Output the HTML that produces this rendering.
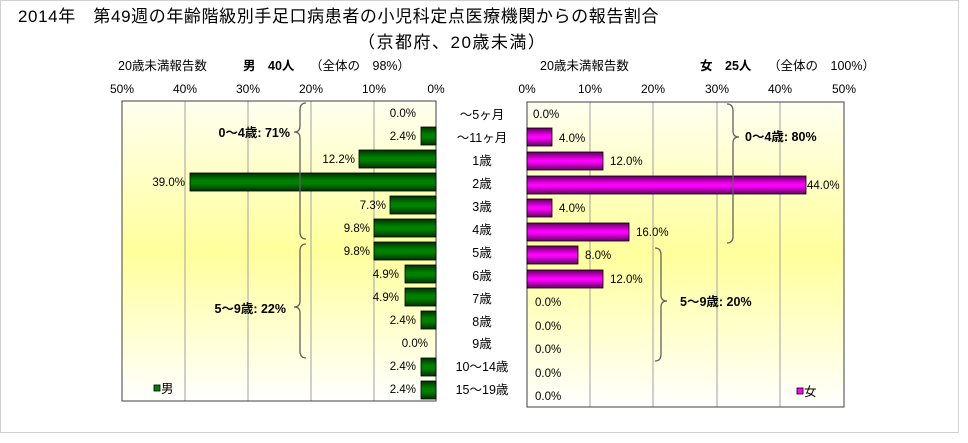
<!DOCTYPE html>
<html><head><meta charset="utf-8"><style>
html,body{margin:0;padding:0;background:#fff;}
svg{display:block;font-family:"Liberation Sans","Noto Sans CJK JP",sans-serif;}
</style></head><body>
<svg width="968" height="443" viewBox="0 0 968 443" xmlns="http://www.w3.org/2000/svg">
<defs>
<linearGradient id="bg" x1="0" y1="0" x2="0" y2="1">
<stop offset="0" stop-color="#fffff0"/><stop offset="0.5" stop-color="#ffff9c"/><stop offset="1" stop-color="#ffffff"/>
</linearGradient>
<linearGradient id="gr" x1="0" y1="0" x2="0" y2="1">
<stop offset="0" stop-color="#003000"/><stop offset="0.4" stop-color="#008000"/><stop offset="0.6" stop-color="#008000"/><stop offset="1" stop-color="#003000"/>
</linearGradient>
<linearGradient id="pk" x1="0" y1="0" x2="0" y2="1">
<stop offset="0" stop-color="#600060"/><stop offset="0.45" stop-color="#ff00ff"/><stop offset="0.55" stop-color="#ff00ff"/><stop offset="1" stop-color="#600060"/>
</linearGradient>
</defs>
<rect x="0.5" y="0.5" width="958" height="432" fill="#fff" stroke="#d0d0d0"/>
<text x="18" y="22" font-size="17" letter-spacing="0.6">2014年　第49週の年齢階級別手足口病患者の小児科定点医療機関からの報告割合</text>
<text x="358" y="48" font-size="17" letter-spacing="1.5">（京都府、20歳未満）</text>

<g font-size="12.5">
<text x="118" y="70">20歳未満報告数</text>
<text x="243" y="70" font-weight="bold">男　40人</text>
<text x="310" y="70">（全体の　98%）</text>
<text x="540" y="70">20歳未満報告数</text>
<text x="700" y="70" font-weight="bold">女　25人</text>
<text x="768" y="70">（全体の　100%）</text>
</g>
<g font-size="12" text-anchor="middle">
<text x="122" y="93">50%</text><text x="185" y="93">40%</text><text x="248" y="93">30%</text><text x="311" y="93">20%</text><text x="374" y="93">10%</text><text x="436" y="93">0%</text>
<text x="527" y="93">0%</text><text x="590" y="93">10%</text><text x="653" y="93">20%</text><text x="717" y="93">30%</text><text x="780" y="93">40%</text><text x="844" y="93">50%</text>
</g>

<!-- left plot -->
<rect x="122" y="101" width="314" height="300" fill="url(#bg)"/>
<g stroke="#a0a0a0" stroke-width="1">
<line x1="185" y1="101" x2="185" y2="401"/><line x1="248" y1="101" x2="248" y2="401"/><line x1="311" y1="101" x2="311" y2="401"/><line x1="374" y1="101" x2="374" y2="401"/>
</g>
<rect x="122" y="101" width="314" height="300" fill="none" stroke="#404040"/>
<!-- right plot -->
<rect x="527" y="102" width="317" height="305" fill="url(#bg)"/>
<g stroke="#a0a0a0" stroke-width="1">
<line x1="590" y1="102" x2="590" y2="407"/><line x1="653" y1="102" x2="653" y2="407"/><line x1="717" y1="102" x2="717" y2="407"/><line x1="780" y1="102" x2="780" y2="407"/>
</g>
<rect x="527" y="102" width="317" height="305" fill="none" stroke="#404040"/>

<!-- left bars -->
<g fill="url(#gr)" stroke="#000" stroke-width="0.8">
<rect x="421" y="127" width="15" height="18"/>
<rect x="359" y="150" width="77" height="18"/>
<rect x="190" y="173" width="246" height="18"/>
<rect x="390" y="196" width="46" height="18"/>
<rect x="374" y="219" width="62" height="18"/>
<rect x="374" y="242" width="62" height="18"/>
<rect x="405" y="265" width="31" height="18"/>
<rect x="405" y="288" width="31" height="18"/>
<rect x="421" y="311" width="15" height="18"/>
<rect x="421" y="358" width="15" height="18"/>
<rect x="421" y="381" width="15" height="18"/>
</g>
<g font-size="11.5" text-anchor="end">
<text x="416" y="117">0.0%</text>
<text x="416" y="140">2.4%</text>
<text x="355" y="163">12.2%</text>
<text x="185" y="186">39.0%</text>
<text x="386" y="209">7.3%</text>
<text x="370" y="232">9.8%</text>
<text x="370" y="255">9.8%</text>
<text x="399" y="278">4.9%</text>
<text x="399" y="301">4.9%</text>
<text x="416" y="324">2.4%</text>
<text x="428" y="347">0.0%</text>
<text x="416" y="370">2.4%</text>
<text x="416" y="393">2.4%</text>
</g>

<!-- right bars -->
<g fill="url(#pk)" stroke="#000" stroke-width="0.8">
<rect x="527" y="128" width="25" height="18"/>
<rect x="527" y="152" width="76" height="18"/>
<rect x="527" y="176" width="279" height="18"/>
<rect x="527" y="199" width="25" height="18"/>
<rect x="527" y="223" width="102" height="18"/>
<rect x="527" y="246" width="51" height="18"/>
<rect x="527" y="270" width="76" height="18"/>
</g>
<g font-size="11.5">
<text x="533" y="118">0.0%</text>
<text x="559" y="142">4.0%</text>
<text x="610" y="165">12.0%</text>
<text x="807" y="189">44.0%</text>
<text x="559" y="212">4.0%</text>
<text x="636" y="236">16.0%</text>
<text x="585" y="259">8.0%</text>
<text x="610" y="283">12.0%</text>
<text x="535" y="306">0.0%</text>
<text x="535" y="330">0.0%</text>
<text x="535" y="353">0.0%</text>
<text x="535" y="377">0.0%</text>
<text x="535" y="400">0.0%</text>
</g>

<!-- category labels -->
<g font-size="12.5" text-anchor="middle">
<text x="482" y="119">～5ヶ月</text>
<text x="482" y="142">～11ヶ月</text>
<text x="482" y="165">1歳</text>
<text x="482" y="188">2歳</text>
<text x="482" y="211">3歳</text>
<text x="482" y="234">4歳</text>
<text x="482" y="257">5歳</text>
<text x="482" y="280">6歳</text>
<text x="482" y="303">7歳</text>
<text x="482" y="326">8歳</text>
<text x="482" y="348">9歳</text>
<text x="482" y="371">10～14歳</text>
<text x="482" y="394">15～19歳</text>
</g>

<!-- braces -->
<g fill="none" stroke="#606060" stroke-width="1.3">
<path d="M306 103 Q300 103 300 110 L300 126 Q300 132 294 132 Q300 132 300 138 L300 232 Q300 239 306 239"/>
<path d="M306 244 Q300 244 300 251 L300 301 Q300 307 294 307 Q300 307 300 313 L300 351 Q300 358 306 358"/>
<path d="M727 104 Q733 104 733 111 L733 131 Q733 137 739 137 Q733 137 733 143 L733 236 Q733 243 727 243"/>
<path d="M655 248 Q661 248 661 255 L661 295 Q661 301 667 301 Q661 301 661 307 L661 354 Q661 361 655 361"/>
</g>
<g font-size="12.5" font-weight="bold">
<text x="290" y="137" text-anchor="end">0～4歳: 71%</text>
<text x="286" y="313" text-anchor="end">5～9歳: 22%</text>
<text x="745" y="141">0～4歳: 80%</text>
<text x="680" y="306">5～9歳: 20%</text>
</g>

<!-- legends -->
<rect x="154" y="385" width="6" height="6" fill="#008000" stroke="#000" stroke-width="0.8"/>
<text x="161" y="393" font-size="12.5">男</text>
<rect x="797" y="388" width="6" height="6" fill="#ff00ff" stroke="#000" stroke-width="0.8"/>
<text x="804" y="396" font-size="12.5">女</text>
</svg>
</body></html>
